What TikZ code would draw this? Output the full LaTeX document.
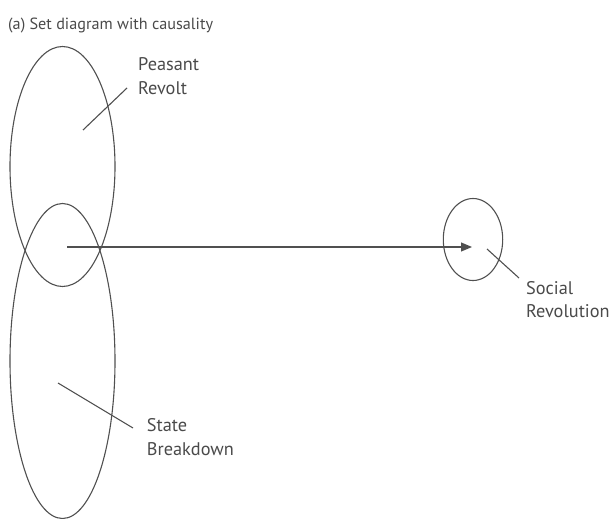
\documentclass[tikz,border=0pt]{standalone}
\usepackage{fontspec}
\setmainfont{PT Sans}
\usetikzlibrary{arrows.meta}
\definecolor{ink}{HTML}{505050}
\definecolor{txt}{HTML}{4A4A4A}
\tikzset{
  setline/.style={draw=ink, line width=1.1pt},
  leader/.style={draw=ink, line width=1.1pt},
  lbl/.style={text=txt, font=\fontsize{18.3}{23.3}\selectfont, inner sep=0pt, align=left, anchor=base west},
  ttl/.style={text=txt, font=\fontsize{16.2}{20}\selectfont, inner sep=0pt, anchor=base west},
}
\begin{document}
\begin{tikzpicture}[x=1pt,y=-1pt]
\useasboundingbox (0,0) rectangle (610,519);
% set centres
\coordinate (pr) at (62.5,166.5);
\coordinate (sb) at (62.5,361);
\coordinate (sr) at (473,239.5);
\draw[setline] (pr) ellipse [x radius=52.5, y radius=120];
\draw[setline] (sb) ellipse [x radius=52.5, y radius=157.5];
\draw[setline] (sr) ellipse [x radius=29.7, y radius=41];
% title
\node[ttl] (title) at (8,29.5) {(a) Set diagram with causality};
% labels (base anchor = baseline of last line)
\node[lbl] (prl) at (138,94) {Peasant\\Revolt};
\node[lbl] (sbl) at (146.7,455) {State\\Breakdown};
\node[lbl] (srl) at (526,317.5) {Social\\Revolution};
% leader lines
\coordinate (pra) at (83,130);
\coordinate (prb) at (127,88);
\coordinate (sba) at (58,383);
\coordinate (sbb) at (133,428);
\coordinate (sra) at (487,249);
\coordinate (srb) at (519,278);
\draw[leader] (pra) -- (prb);
\draw[leader] (sba) -- (sbb);
\draw[leader] (sra) -- (srb);
% causal arrow
\coordinate (cause) at (67,247);
\coordinate (effect) at (472,247);
\draw[leader, -{Triangle[length=11pt,width=9pt]}] (cause) -- (effect);
\end{tikzpicture}
\end{document}
